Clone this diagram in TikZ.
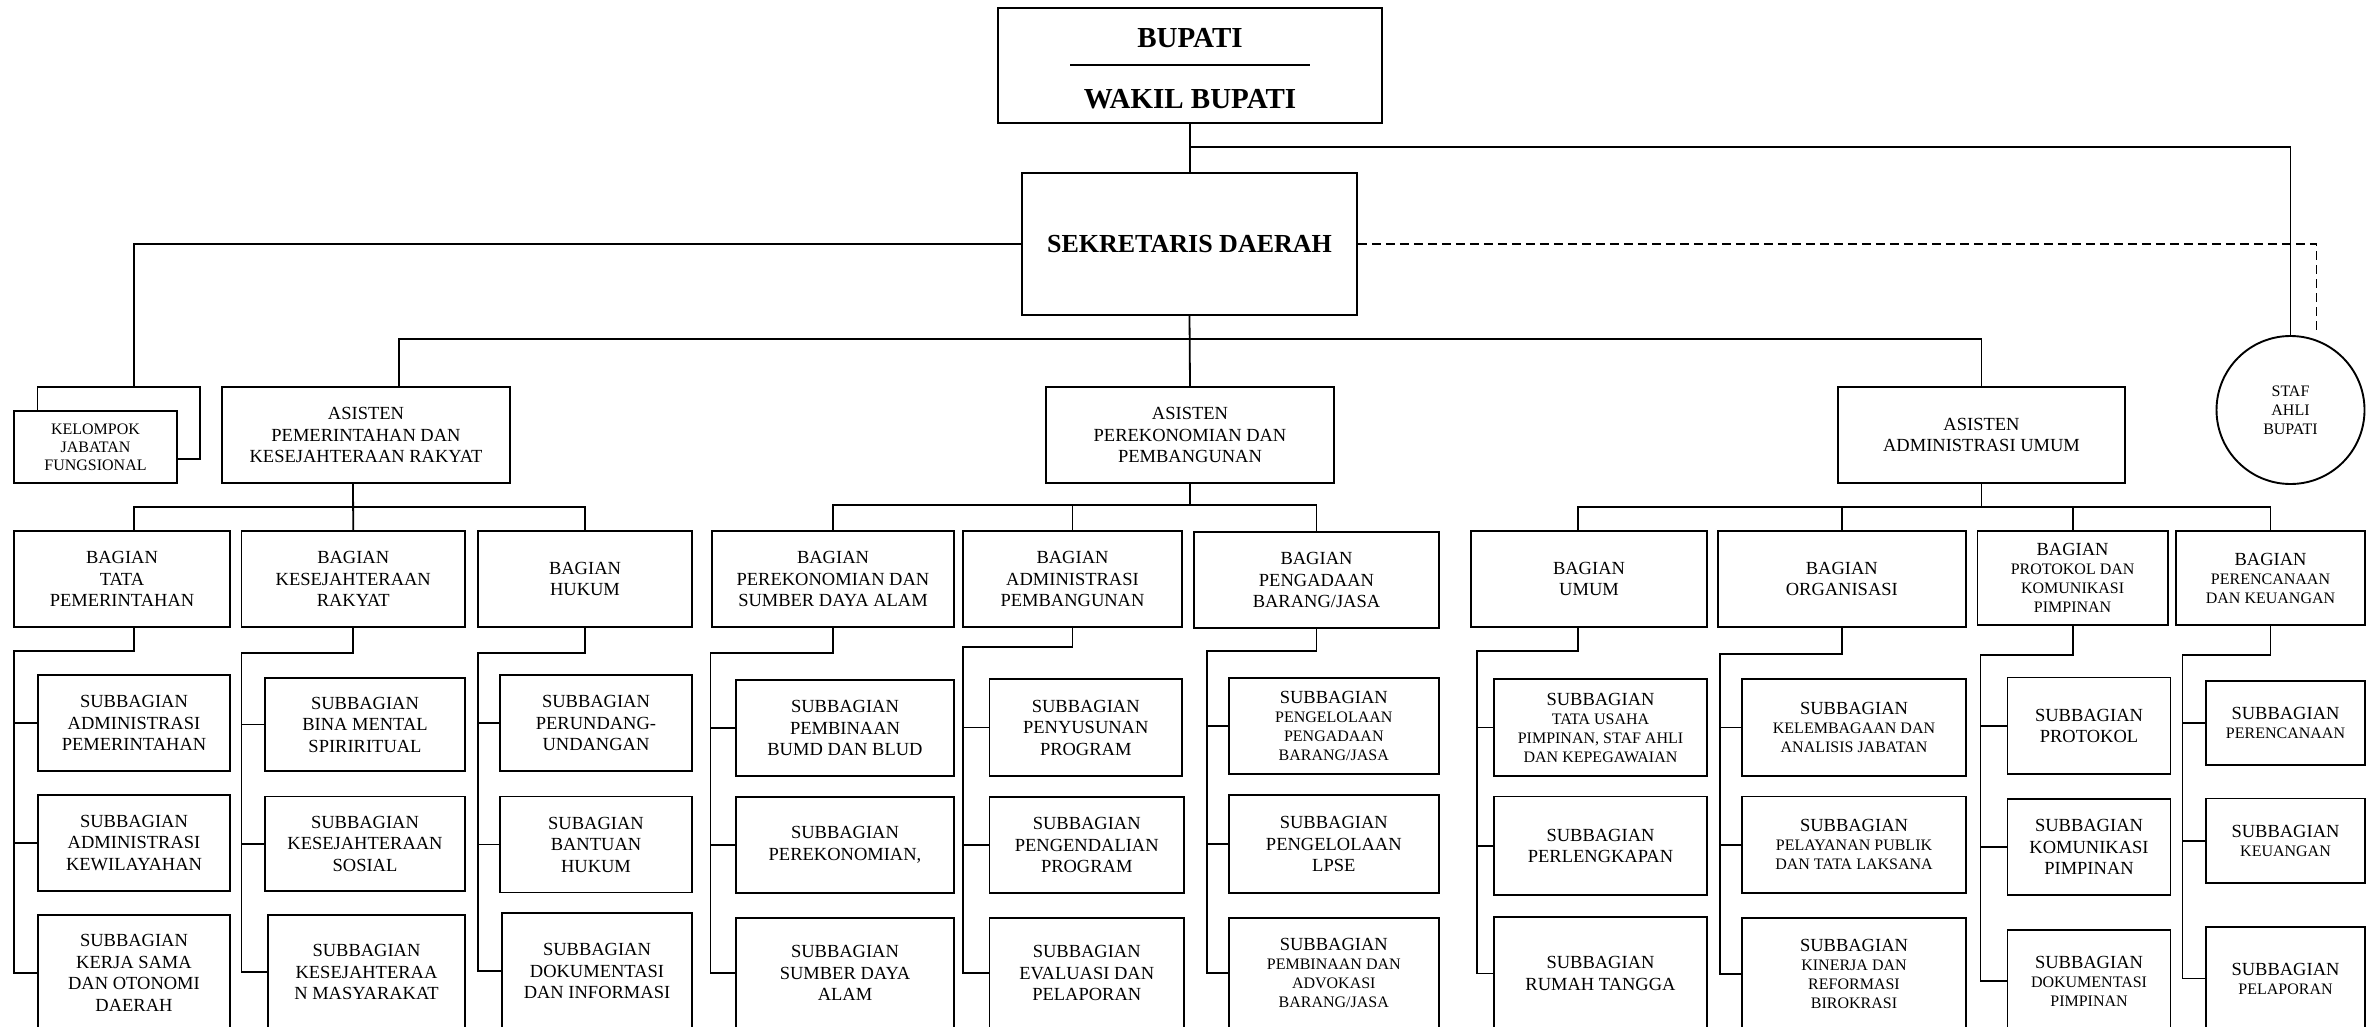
\documentclass[tikz,border=0pt]{standalone}
\usepackage{fontspec}
\setmainfont{Liberation Serif}
\newcommand\sm{\fontsize{16}{19}\selectfont}
\begin{document}
\begin{tikzpicture}[x=1pt,y=-1pt]
\tikzset{unit/.style={draw, line width=1.9pt, align=center, inner sep=0pt, font=\fontsize{18.5}{21.5}\selectfont},
  mixed/.style={font=\fontsize{18.5}{19}\selectfont},
  link/.style={line width=1.8pt}}
\useasboundingbox (0,0) rectangle (2366,1027);
\clip (0,0) rectangle (2366,1027);

% pimpinan
\node[unit, minimum width=384, minimum height=115] (bupati) at (1190,65.5) {};
\node[font=\fontsize{29}{34}\selectfont\bfseries] (bupati-a) at (1190,38) {BUPATI};
\node[font=\fontsize{29}{34}\selectfont\bfseries] (bupati-b) at (1190,99) {WAKIL BUPATI};
\draw[line width=2pt] ([xshift=-120]bupati.center) -- ([xshift=120]bupati.center);
\node[unit, minimum width=335, minimum height=142, font=\fontsize{26}{30}\selectfont\bfseries] (sekda) at (1189.5,244) {SEKRETARIS DAERAH};
\node[unit, minimum width=162.5, minimum height=72] (kelback) at (118.75,423) {};
\node[unit, fill=white, minimum width=163, minimum height=72, font=\fontsize{16}{18}\selectfont] (kelompok) at (95.5,447) {KELOMPOK\\JABATAN\\FUNGSIONAL};
\node[draw, circle, line width=1.9pt, minimum size=148, inner sep=0pt, align=center, font=\fontsize{16}{19}\selectfont] (staf) at (2290.5,410) {STAF\\AHLI\\BUPATI};

% asisten
\node[unit, minimum width=288, minimum height=96] (as1) at (366,435) {ASISTEN\\PEMERINTAHAN DAN\\KESEJAHTERAAN RAKYAT};
\node[unit, minimum width=288, minimum height=96] (as2) at (1190,435) {ASISTEN\\PEREKONOMIAN DAN\\PEMBANGUNAN};
\node[unit, minimum width=287, minimum height=96] (as3) at (1981.5,435) {ASISTEN\\ADMINISTRASI UMUM};

% bagian
\node[unit, minimum width=216, minimum height=96] (b1) at (122,579) {BAGIAN\\TATA\\PEMERINTAHAN};
\node[unit, minimum width=223.5, minimum height=96] (b2) at (353.25,579) {BAGIAN\\KESEJAHTERAAN\\RAKYAT};
\node[unit, minimum width=214, minimum height=96] (b3) at (585,579) {BAGIAN\\HUKUM};
\node[unit, minimum width=242, minimum height=96] (b4) at (833,579) {BAGIAN\\PEREKONOMIAN DAN\\SUMBER DAYA ALAM};
\node[unit, minimum width=219, minimum height=96] (b5) at (1072.5,579) {BAGIAN\\ADMINISTRASI\\PEMBANGUNAN};
\node[unit, minimum width=245, minimum height=96] (b6) at (1316.5,580) {BAGIAN\\PENGADAAN\\BARANG/JASA};
\node[unit, minimum width=236, minimum height=96] (b7) at (1589,579) {BAGIAN\\UMUM};
\node[unit, minimum width=248.4, minimum height=96] (b8) at (1841.8,579) {BAGIAN\\ORGANISASI};
\node[unit, mixed, minimum width=190.2, minimum height=94] (b9) at (2072.6,578) {BAGIAN\\\sm PROTOKOL DAN\\\sm KOMUNIKASI\\\sm PIMPINAN};
\node[unit, mixed, minimum width=189, minimum height=94] (b10) at (2270.5,578) {BAGIAN\\\sm PERENCANAAN\\\sm DAN KEUANGAN};

% subbagian
\node[unit, minimum width=192, minimum height=96] (s1-1) at (134,723) {SUBBAGIAN\\ADMINISTRASI\\PEMERINTAHAN};
\node[unit, minimum width=192, minimum height=96] (s1-2) at (134,843) {SUBBAGIAN\\ADMINISTRASI\\KEWILAYAHAN};
\node[unit, minimum width=192, minimum height=116] (s1-3) at (134,973) {SUBBAGIAN\\KERJA SAMA\\DAN OTONOMI\\DAERAH};
\node[unit, minimum width=200, minimum height=93] (s2-1) at (365,724.5) {SUBBAGIAN\\BINA MENTAL\\SPIRIRITUAL};
\node[unit, minimum width=200, minimum height=94.5] (s2-2) at (365,843.75) {SUBBAGIAN\\KESEJAHTERAAN\\SOSIAL};
\node[unit, minimum width=197, minimum height=114] (s2-3) at (366.5,972) {SUBBAGIAN\\KESEJAHTERAA\\N MASYARAKAT};
\node[unit, minimum width=192, minimum height=96] (s3-1) at (596,723) {SUBBAGIAN\\PERUNDANG-\\UNDANGAN};
\node[unit, minimum width=192, minimum height=96] (s3-2) at (596,844.5) {SUBAGIAN\\BANTUAN\\HUKUM};
\node[unit, minimum width=190, minimum height=116] (s3-3) at (597,971) {SUBBAGIAN\\DOKUMENTASI\\DAN INFORMASI};
\node[unit, minimum width=218, minimum height=96] (s4-1) at (845,728) {SUBBAGIAN\\PEMBINAAN\\BUMD DAN BLUD};
\node[unit, minimum width=218, minimum height=96] (s4-2) at (845,845) {SUBBAGIAN\\PEREKONOMIAN,};
\node[unit, minimum width=218, minimum height=110] (s4-3) at (845,973) {SUBBAGIAN\\SUMBER DAYA\\ALAM};
\node[unit, minimum width=192.5, minimum height=97] (s5-1) at (1085.75,727.5) {SUBBAGIAN\\PENYUSUNAN\\PROGRAM};
\node[unit, minimum width=194.5, minimum height=96] (s5-2) at (1086.75,845) {SUBBAGIAN\\PENGENDALIAN\\PROGRAM};
\node[unit, minimum width=194.5, minimum height=110] (s5-3) at (1086.75,973) {SUBBAGIAN\\EVALUASI DAN\\PELAPORAN};
\node[unit, mixed, minimum width=210.4, minimum height=96] (s6-1) at (1333.8,726) {SUBBAGIAN\\\sm PENGELOLAAN\\\sm PENGADAAN\\\sm BARANG/JASA};
\node[unit, minimum width=210.4, minimum height=98] (s6-2) at (1333.8,844) {SUBBAGIAN\\PENGELOLAAN\\LPSE};
\node[unit, mixed, minimum width=210.4, minimum height=110] (s6-3) at (1333.8,973) {SUBBAGIAN\\\sm PEMBINAAN DAN\\\sm ADVOKASI\\\sm BARANG/JASA};
\node[unit, mixed, minimum width=213, minimum height=97] (s7-1) at (1600.5,727.5) {SUBBAGIAN\\\sm TATA USAHA\\\sm PIMPINAN, STAF AHLI\\\sm DAN KEPEGAWAIAN};
\node[unit, minimum width=213, minimum height=98.5] (s7-2) at (1600.5,845.75) {SUBBAGIAN\\PERLENGKAPAN};
\node[unit, minimum width=213, minimum height=113] (s7-3) at (1600.5,973.5) {SUBBAGIAN\\RUMAH TANGGA};
\node[unit, mixed, minimum width=224, minimum height=97] (s8-1) at (1854,727.5) {SUBBAGIAN\\\sm KELEMBAGAAN DAN\\\sm ANALISIS JABATAN};
\node[unit, mixed, minimum width=224, minimum height=96.5] (s8-2) at (1854,844.75) {SUBBAGIAN\\\sm PELAYANAN PUBLIK\\\sm DAN TATA LAKSANA};
\node[unit, mixed, minimum width=224, minimum height=112] (s8-3) at (1854,974) {SUBBAGIAN\\\sm KINERJA DAN\\\sm REFORMASI\\\sm BIROKRASI};
\node[unit, minimum width=163, minimum height=96.5] (s9-1) at (2089,725.75) {SUBBAGIAN\\PROTOKOL};
\node[unit, minimum width=163, minimum height=96] (s9-2) at (2089,847) {SUBBAGIAN\\KOMUNIKASI\\PIMPINAN};
\node[unit, mixed, minimum width=163, minimum height=102] (s9-3) at (2089,981) {SUBBAGIAN\\\sm DOKUMENTASI\\\sm PIMPINAN};
\node[unit, mixed, minimum width=159, minimum height=84] (s10-1) at (2285.5,723) {SUBBAGIAN\\\sm PERENCANAAN};
\node[unit, mixed, minimum width=159, minimum height=84.5] (s10-2) at (2285.5,840.75) {SUBBAGIAN\\\sm KEUANGAN};
\node[unit, mixed, minimum width=159, minimum height=103] (s10-3) at (2285.5,978.5) {SUBBAGIAN\\\sm PELAPORAN};

% garis atas
\draw[link] (bupati.south) -- (bupati.south |- sekda.north);
\coordinate (j1) at (1190,147);
\draw[link] (j1) -| (staf.north);
\draw[link, dash pattern=on 9pt off 5pt] (sekda.east) -| ([xshift=26]staf.north);
\draw[link] (sekda.west) -| ([xshift=15]kelback.north);
\draw[link] (sekda.south) -- (as2.north);
\coordinate (bus0) at (1190,339);
\draw[link] ([xshift=33]as1.north) |- (bus0) -| (as3.north);

% garis asisten ke bagian
\coordinate (bus1) at (353,507);
\draw[link] ([xshift=-13]as1.south) -- (b2.north);
\draw[link] ([xshift=12]b1.north) |- (bus1) -| (b3.north);
\coordinate (bus2) at (1190,505);
\draw[link] (as2.south) -- (bus2);
\draw[link] (b4.north) |- (bus2) -| (b6.north);
\draw[link] (b5.north) -- (b5.north |- bus2);
\coordinate (bus3) at (1981.5,507);
\draw[link] (as3.south) -- (bus3);
\draw[link] ([xshift=-11]b7.north) |- (bus3) -| (b10.north);
\draw[link] (b8.north) -- (b8.north |- bus3);
\draw[link] (b9.north) -- (b9.north |- bus3);

% garis bagian ke subbagian
\coordinate (c1) at (14,651);
\coordinate (c2) at (241.5,653);
\coordinate (c3) at (478,653);
\coordinate (c4) at (710.5,653);
\coordinate (c5) at (963,647);
\coordinate (c6) at (1207,650.6);
\coordinate (c7) at (1476.6,650.6);
\coordinate (c8) at (1720,654);
\coordinate (c9) at (1980.5,655);
\coordinate (c10) at (2182.5,655);
\draw[link] ([xshift=12]b1.south) |- (c1) |- (s1-3.west);
\draw[link] (c1 |- s1-1.west) -- (s1-1.west);
\draw[link] (c1 |- s1-2.west) -- (s1-2.west);
\draw[link] (b2.south) |- (c2) |- (s2-3.west);
\draw[link] (c2 |- s2-1.west) -- (s2-1.west);
\draw[link] (c2 |- s2-2.west) -- (s2-2.west);
\draw[link] (b3.south) |- (c3) |- (s3-3.west);
\draw[link] (c3 |- s3-1.west) -- (s3-1.west);
\draw[link] (c3 |- s3-2.west) -- (s3-2.west);
\draw[link] (b4.south) |- (c4) |- (s4-3.west);
\draw[link] (c4 |- s4-1.west) -- (s4-1.west);
\draw[link] (c4 |- s4-2.west) -- (s4-2.west);
\draw[link] (b5.south) |- (c5) |- (s5-3.west);
\draw[link] (c5 |- s5-1.west) -- (s5-1.west);
\draw[link] (c5 |- s5-2.west) -- (s5-2.west);
\draw[link] (b6.south) |- (c6) |- (s6-3.west);
\draw[link] (c6 |- s6-1.west) -- (s6-1.west);
\draw[link] (c6 |- s6-2.west) -- (s6-2.west);
\draw[link] ([xshift=-11]b7.south) |- (c7) |- (s7-3.west);
\draw[link] (c7 |- s7-1.west) -- (s7-1.west);
\draw[link] (c7 |- s7-2.west) -- (s7-2.west);
\draw[link] (b8.south) |- (c8) |- (s8-3.west);
\draw[link] (c8 |- s8-1.west) -- (s8-1.west);
\draw[link] (c8 |- s8-2.west) -- (s8-2.west);
\draw[link] (b9.south) |- (c9) |- (s9-3.west);
\draw[link] (c9 |- s9-1.west) -- (s9-1.west);
\draw[link] (c9 |- s9-2.west) -- (s9-2.west);
\draw[link] (b10.south) |- (c10) |- (s10-3.west);
\draw[link] (c10 |- s10-1.west) -- (s10-1.west);
\draw[link] (c10 |- s10-2.west) -- (s10-2.west);
\end{tikzpicture}
\end{document}
